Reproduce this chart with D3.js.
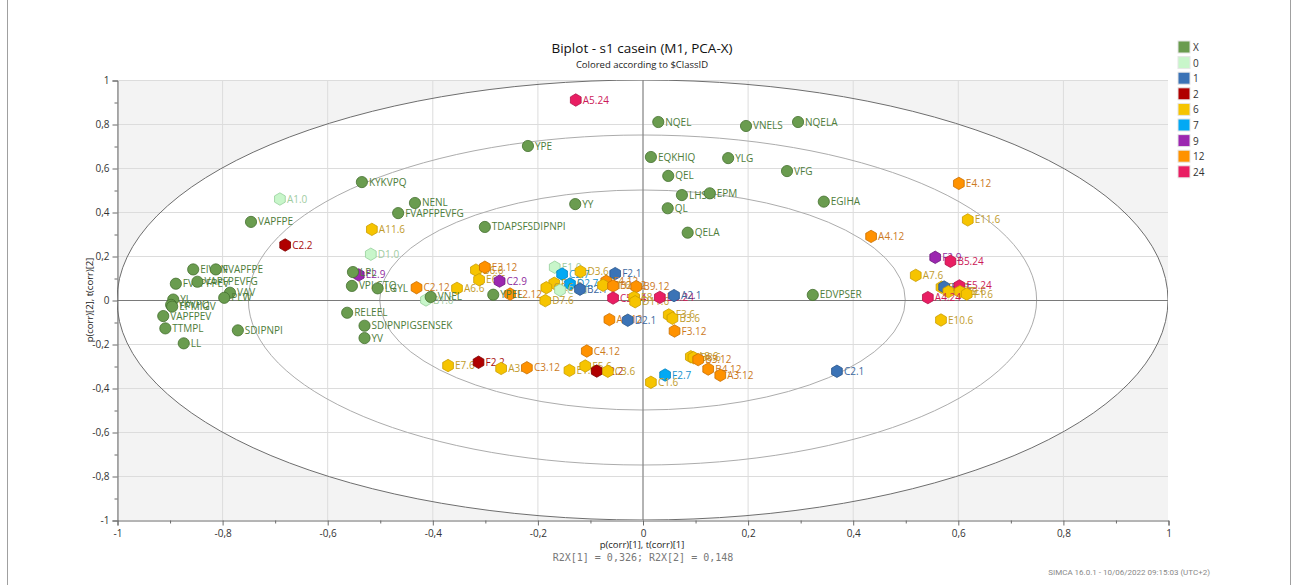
<!DOCTYPE html>
<html>
<head>
<meta charset="utf-8">
<script src="https://cdn.jsdelivr.net/npm/d3@7"></script>
<style>
  html, body { margin: 0; padding: 0; background: #fff; }
  svg { display: block; font-family: "Open Sans", "Noto Sans", sans-serif; }
</style>
</head>
<body>
<svg id="chart" width="1293" height="585"></svg>
<script>
// Loadings (X variables): [label, p(corr)[1], p(corr)[2]]
const variables = [
  ["NQEL", 0.030, 0.809], ["VNELS", 0.197, 0.791], ["NQELA", 0.296, 0.809],
  ["YPE", -0.218, 0.700], ["EQKHIQ", 0.016, 0.650], ["YLG", 0.163, 0.645],
  ["QEL", 0.049, 0.564], ["VFG", 0.275, 0.586], ["KYKVPQ", -0.534, 0.536],
  ["LHSM", 0.075, 0.477], ["EPM", 0.128, 0.485], ["NENL", -0.433, 0.441],
  ["EGIHA", 0.345, 0.447], ["YY", -0.128, 0.436], ["QL", 0.048, 0.417],
  ["FVAPFPEVFG", -0.465, 0.395], ["VAPFPE", -0.745, 0.355],
  ["TDAPSFSDIPNPI", -0.300, 0.332], ["QELA", 0.086, 0.306],
  ["EIVPN", -0.855, 0.139], ["FVAPFPE", -0.812, 0.139], ["LPL", -0.551, 0.127],
  ["FVAPFPEV", -0.888, 0.074], ["VAPFPEVFG", -0.847, 0.083],
  ["VPLGTQ", -0.553, 0.064], ["LGYL", -0.504, 0.053], ["VAV", -0.785, 0.033],
  ["PLW", -0.796, 0.010], ["YL", -0.893, 0.002], ["YKVPQ", -0.897, -0.022],
  ["EPMIGV", -0.895, -0.030], ["VAPFPEV", -0.912, -0.073],
  ["TTMPL", -0.908, -0.129], ["SDIPNPI", -0.770, -0.138], ["LL", -0.873, -0.197],
  ["RELEEL", -0.562, -0.058], ["SDIPNPIGSENSEK", -0.529, -0.117],
  ["YV", -0.529, -0.173], ["VNEL", -0.403, 0.014], ["YPEL", -0.284, 0.024],
  ["EDVPSER", 0.324, 0.023]
];

// Scores (observations): [label, class, t(corr)[1], t(corr)[2]]
const observations = [
  ["A5.24", "24", -0.127, 0.909], ["A1.0", "0", -0.690, 0.459],
  ["C2.2", "2", -0.680, 0.250], ["A11.6", "6", -0.515, 0.321],
  ["D1.0", "0", -0.517, 0.208], ["E2.9", "9", -0.540, 0.114],
  ["C2.12", "12", -0.430, 0.056], ["B1.0", "0", -0.412, 0.000],
  ["A6.6", "6", -0.353, 0.053], ["B6.6", "6", -0.317, 0.136],
  ["E3.12", "12", -0.300, 0.149], ["E6.6", "6", -0.311, 0.092],
  ["C2.9", "9", -0.272, 0.086], ["F2.12", "12", -0.252, 0.027],
  ["E1.0", "0", -0.167, 0.149], ["C2.7", "7", -0.153, 0.118],
  ["D3.6", "6", -0.118, 0.129], ["F2.1", "1", -0.052, 0.120],
  ["D1.6", "6", -0.168, 0.076], ["D2.7", "7", -0.138, 0.073],
  ["C6.6", "6", -0.183, 0.056], ["C1.0", "0", -0.157, 0.045],
  ["B2.1", "1", -0.119, 0.049], ["D7.6", "6", -0.185, -0.003],
  ["F4.12", "12", -0.069, 0.085], ["B1.6", "6", -0.075, 0.067],
  ["B2.12", "12", -0.056, 0.064], ["B9.12", "12", -0.012, 0.061],
  ["C5.24", "24", -0.056, 0.009], ["E8.6", "6", -0.016, 0.012],
  ["D11.6", "6", -0.014, -0.008], ["D5.24", "24", 0.033, 0.012],
  ["A2.1", "1", 0.060, 0.020], ["A6.12", "12", -0.063, -0.089],
  ["D2.1", "1", -0.028, -0.092], ["F3.6", "6", 0.050, -0.068],
  ["B3.6", "6", 0.057, -0.083], ["F3.12", "12", 0.061, -0.141],
  ["C4.12", "12", -0.106, -0.232], ["E7.6", "6", -0.370, -0.298],
  ["F2.2", "2", -0.312, -0.283], ["A3.6", "6", -0.269, -0.311],
  ["C3.12", "12", -0.220, -0.308], ["E1.6", "6", -0.139, -0.320],
  ["E5.6", "6", -0.109, -0.300], ["E2.2", "2", -0.087, -0.323],
  ["C3.6", "6", -0.066, -0.324], ["F2.7", "7", 0.043, -0.341],
  ["C1.6", "6", 0.016, -0.374], ["A8.6", "6", 0.092, -0.258],
  ["B8.6", "6", 0.097, -0.262], ["B3.12", "12", 0.106, -0.271],
  ["B4.12", "12", 0.125, -0.314], ["A3.12", "12", 0.148, -0.342],
  ["C2.1", "1", 0.370, -0.324], ["E4.12", "12", 0.602, 0.530],
  ["E11.6", "6", 0.619, 0.364], ["A4.12", "12", 0.435, 0.289],
  ["F2.9", "9", 0.557, 0.194], ["B5.24", "24", 0.586, 0.176],
  ["A7.6", "6", 0.520, 0.112], ["B7.6", "6", 0.569, 0.058],
  ["E2.1", "1", 0.574, 0.059], ["E5.24", "24", 0.603, 0.064],
  ["E9.6", "6", 0.582, 0.038], ["F9.6", "6", 0.604, 0.038],
  ["F1.6", "6", 0.617, 0.027], ["A4.24", "24", 0.543, 0.011],
  ["E10.6", "6", 0.568, -0.091]
];

// Legend entries and their colours
const classes = ["X", "0", "1", "2", "6", "7", "9", "12", "24"];
const fillColors = ["#6a9c4f", "#c8f6ca", "#3b73b6", "#b00000", "#f6c400", "#03a9f4", "#9c27b0", "#ff9200", "#e91e63"];
const strokeColors = ["#44702f", "#96cf9b", "#28558c", "#7c0000", "#c99c00", "#0283bf", "#6d1a7d", "#c96f00", "#b2124a"];
const textColors = ["#4e7d3a", "#9fcc9f", "#3d68a0", "#a80f0f", "#bf9b2c", "#1592cf", "#8f2ea0", "#cc7a1e", "#cc1a58"];

const axisTicks = [-1, -0.8, -0.6, -0.4, -0.2, 0, 0.2, 0.4, 0.6, 0.8, 1];
const minorTicks = [-0.9, -0.7, -0.5, -0.3, -0.1, 0.1, 0.3, 0.5, 0.7, 0.9];
const ellipseRadii = [1, 0.75, 0.5];

const svg = d3.select("#chart");
const W = 1293, H = 585;
const plot = { left: 117, right: 1168, top: 80, bottom: 520 };

const x = d3.scaleLinear().domain([-1, 1]).range([plot.left, plot.right]);
const y = d3.scaleLinear().domain([-1, 1]).range([plot.bottom, plot.top]);
const fmt = v => (Math.round(v * 10) / 10).toString().replace(".", ",");
const cIdx = c => classes.indexOf(c);

// Frame lines at the page edges
svg.append("line").attr("x1", 7.5).attr("x2", 7.5).attr("y1", 0).attr("y2", H)
  .attr("stroke", "#a0a0a0");
svg.append("line").attr("x1", 1290.5).attr("x2", 1290.5).attr("y1", 0).attr("y2", H)
  .attr("stroke", "#a0a0a0");

// Plot background: grey outside the unit ellipse, white inside
const clip = svg.append("defs").append("clipPath").attr("id", "plotclip");
clip.append("rect").attr("x", plot.left).attr("y", plot.top)
  .attr("width", plot.right - plot.left).attr("height", plot.bottom - plot.top);

const g = svg.append("g").attr("clip-path", "url(#plotclip)");
g.append("rect").attr("x", plot.left).attr("y", plot.top)
  .attr("width", plot.right - plot.left).attr("height", plot.bottom - plot.top)
  .attr("fill", "#f3f3f3");
g.append("ellipse").attr("cx", x(0)).attr("cy", y(0))
  .attr("rx", x(1) - x(0)).attr("ry", y(0) - y(1)).attr("fill", "#fff");

// Grid
g.selectAll("line.vg").data(axisTicks).join("line")
  .attr("x1", d => x(d) + 0.5).attr("x2", d => x(d) + 0.5)
  .attr("y1", plot.top).attr("y2", plot.bottom)
  .attr("stroke", "#dcdcdc").attr("stroke-width", 1);
g.selectAll("line.hg").data(axisTicks).join("line")
  .attr("y1", d => Math.round(y(d)) + 0.5).attr("y2", d => Math.round(y(d)) + 0.5)
  .attr("x1", plot.left).attr("x2", plot.right)
  .attr("stroke", "#dcdcdc").attr("stroke-width", 1);

// Hotelling-style ellipses
g.selectAll("ellipse.lim").data(ellipseRadii).join("ellipse")
  .attr("cx", x(0)).attr("cy", y(0))
  .attr("rx", d => x(d) - x(0)).attr("ry", d => y(0) - y(d))
  .attr("fill", "none")
  .attr("stroke", (d, i) => i === 0 ? "#6e6e6e" : "#acacac")
  .attr("stroke-width", 1);

// Zero lines
g.append("line").attr("x1", x(0) + 0.5).attr("x2", x(0) + 0.5)
  .attr("y1", plot.top).attr("y2", plot.bottom).attr("stroke", "#7a7a7a");
g.append("line").attr("y1", Math.round(y(0)) + 0.5).attr("y2", Math.round(y(0)) + 0.5)
  .attr("x1", plot.left).attr("x2", plot.right).attr("stroke", "#7a7a7a");

// Axes
const xAxis = d3.axisBottom(x).tickValues(axisTicks).tickFormat(fmt).tickSize(5).tickPadding(4);
const yAxis = d3.axisLeft(y).tickValues(axisTicks).tickFormat(fmt).tickSize(5).tickPadding(3);
const gx = svg.append("g").attr("transform", `translate(0.5,${plot.bottom + 0.5})`).call(xAxis);
const gy = svg.append("g").attr("transform", `translate(${plot.left + 0.5},0.5)`).call(yAxis);
[gx, gy].forEach(a => {
  a.select(".domain").attr("stroke", "#6a6a6a");
  a.selectAll(".tick line").attr("stroke", "#6a6a6a");
  a.selectAll(".tick text").attr("fill", "#333").attr("font-size", 10)
    .attr("font-family", "'Open Sans', sans-serif");
});
svg.append("g").attr("transform", `translate(0.5,${plot.bottom + 0.5})`)
  .call(d3.axisBottom(x).tickValues(minorTicks).tickFormat("").tickSize(3))
  .call(a => { a.select(".domain").remove(); a.selectAll("line").attr("stroke", "#6a6a6a"); });
svg.append("g").attr("transform", `translate(${plot.left + 0.5},0.5)`)
  .call(d3.axisLeft(y).tickValues(minorTicks).tickFormat("").tickSize(3))
  .call(a => { a.select(".domain").remove(); a.selectAll("line").attr("stroke", "#6a6a6a"); });

// Titles
svg.append("text").attr("x", 642).attr("y", 53).attr("text-anchor", "middle")
  .attr("font-size", 13.5).attr("fill", "#111").text("Biplot - s1 casein (M1, PCA-X)");
svg.append("text").attr("x", 642).attr("y", 68).attr("text-anchor", "middle")
  .attr("font-size", 9.5).attr("fill", "#222").text("Colored according to $ClassID");
svg.append("text").attr("x", 642).attr("y", 548).attr("text-anchor", "middle")
  .attr("font-size", 9.5).attr("fill", "#222").text("p(corr)[1], t(corr)[1]");
svg.append("text").attr("transform", "translate(93,300) rotate(-90)").attr("text-anchor", "middle")
  .attr("font-size", 9.5).attr("fill", "#222").text("p(corr)[2], t(corr)[2]");
svg.append("text").attr("x", 643).attr("y", 561).attr("text-anchor", "middle")
  .attr("font-family", "'DejaVu Sans Mono', 'Liberation Mono', monospace")
  .attr("font-size", 10).attr("fill", "#777").text("R2X[1] = 0,326; R2X[2] = 0,148");
svg.append("text").attr("x", 1210).attr("y", 575).attr("text-anchor", "end")
  .attr("font-family", "'Liberation Sans Narrow', 'Roboto', sans-serif")
  .attr("font-size", 8).attr("fill", "#888").text("SIMCA 16.0.1 - 10/06/2022 09:15:03 (UTC+2)");

// Legend
const leg = svg.append("g").attr("transform", "translate(1178,41)");
classes.forEach((c, i) => {
  const row = leg.append("g").attr("transform", `translate(0,${i * 15.6})`);
  row.append("rect").attr("x", 0).attr("y", 0).attr("width", 12).attr("height", 12)
    .attr("fill", fillColors[i]).attr("stroke", "#e6e6e6").attr("stroke-width", 1);
  row.append("text").attr("x", 15).attr("y", 10).attr("font-size", 10)
    .attr("fill", "#333").text(c);
});

// Markers
const pts = svg.append("g").attr("clip-path", "url(#plotclip)");
const hexPath = r => {
  const p = d3.path();
  for (let k = 0; k < 6; k++) {
    const a = Math.PI / 2 + k * Math.PI / 3;
    const px = r * Math.cos(a), py = -r * Math.sin(a);
    k === 0 ? p.moveTo(px, py) : p.lineTo(px, py);
  }
  p.closePath();
  return p.toString();
};
const hex = hexPath(6.2);

const obsG = pts.selectAll("g.obs").data(observations).join("g")
  .attr("transform", d => `translate(${x(d[2])},${y(d[3])})`);
obsG.append("path").attr("d", hex)
  .attr("fill", d => fillColors[cIdx(d[1])])
  .attr("stroke", d => strokeColors[cIdx(d[1])]).attr("stroke-width", 0.8);
obsG.append("text").attr("x", 7).attr("dy", "0.35em").attr("font-size", 10)
  .attr("fill", d => textColors[cIdx(d[1])]).text(d => d[0]);

const varG = pts.selectAll("g.var").data(variables).join("g")
  .attr("transform", d => `translate(${x(d[1])},${y(d[2])})`);
varG.append("circle").attr("r", 5.6)
  .attr("fill", fillColors[0]).attr("stroke", strokeColors[0]).attr("stroke-width", 0.8);
varG.append("text").attr("x", 7).attr("dy", "0.35em").attr("font-size", 10)
  .attr("fill", textColors[0]).text(d => d[0]);
</script>
</body>
</html>
